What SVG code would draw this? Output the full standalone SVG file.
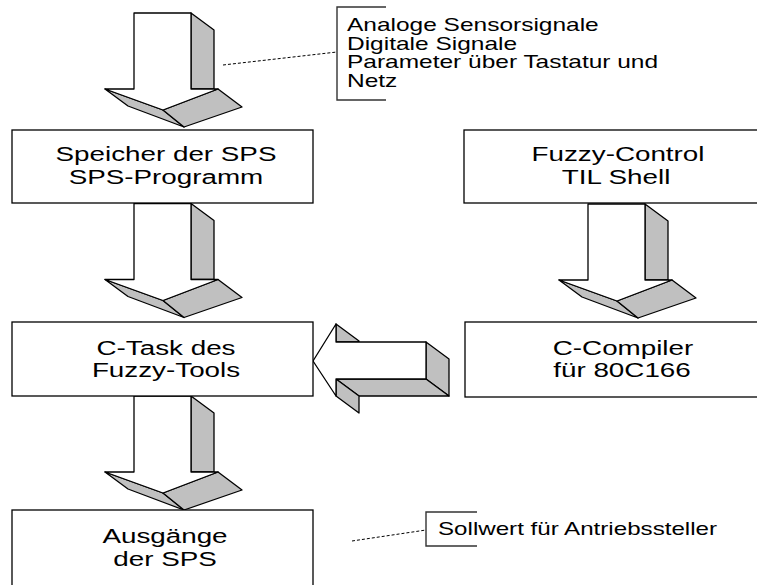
<svg xmlns="http://www.w3.org/2000/svg" width="757" height="585" viewBox="0 0 757 585">
  <style>
    .box { fill: #ffffff; stroke: #000000; stroke-width: 1.3; }
    .face { fill: #ffffff; stroke: #000000; stroke-width: 1.3; stroke-linejoin: round; }
    .shade { fill: #c0c0c0; stroke: #000000; stroke-width: 1.3; stroke-linejoin: round; }
    .lbl { font-family: "Liberation Sans", Arial, sans-serif; font-size: 20px; fill: #000000; text-anchor: middle; }
    .note { font-family: "Liberation Sans", Arial, sans-serif; font-size: 17.5px; fill: #000000; }
    .bracket { fill: none; stroke: #333333; stroke-width: 1.4; }
    .lead { fill: none; stroke: #000000; stroke-width: 1; stroke-dasharray: 3 2; }
  </style>
  <defs>
    <!-- 3D block arrow pointing down, origin at the top-left of the shaft -->
    <g id="down-arrow">
      <polygon class="shade" points="57,0 80,17 80,76 57,76"/>
      <polygon class="shade" points="-29,76 29,97 50,114 -6,93"/>
      <polygon class="shade" points="29,97 84,76 108,94 50,114"/>
      <polygon class="face" points="0,0 57,0 57,76 84,76 29,97 -29,76 0,76"/>
    </g>
  </defs>

  <rect width="757" height="585" fill="#ffffff"/>

  <g id="connectors">
    <use href="#down-arrow" transform="translate(134 13)"/>
    <use href="#down-arrow" transform="translate(134 203.5)"/>
    <use href="#down-arrow" transform="translate(134 396)"/>
    <use href="#down-arrow" transform="translate(588 204)"/>
    <!-- block arrow pointing left, from compiler to C-task -->
    <g id="arrow-left">
      <polygon class="shade" points="336,324 359,341 359,342 336,342"/>
      <polygon class="shade" points="426,342 449,359 449,396 426,379"/>
      <polygon class="shade" points="336,379 426,379 449,396 359,396"/>
      <polygon class="shade" points="336,379 359,396 359,413 336,396"/>
      <polygon class="face" points="313,361 336,324 336,342 426,342 426,379 336,379 336,396"/>
    </g>
    <line class="lead" x1="223" y1="65" x2="337" y2="52"/>
    <line class="lead" x1="352" y1="541" x2="426" y2="530"/>
  </g>

  <g id="speicher">
    <rect class="box" x="12" y="130" width="301" height="73"/>
    <text class="lbl" transform="translate(166 161) scale(1.39 1)">Speicher der SPS</text>
    <text class="lbl" transform="translate(166 183.5) scale(1.39 1)">SPS-Programm</text>
  </g>

  <g id="c-task">
    <rect class="box" x="12" y="322" width="301" height="74"/>
    <text class="lbl" transform="translate(166 355) scale(1.39 1)">C-Task des</text>
    <text class="lbl" transform="translate(166 377) scale(1.39 1)">Fuzzy-Tools</text>
  </g>

  <g id="ausgaenge">
    <rect class="box" x="12" y="510" width="301" height="100"/>
    <text class="lbl" transform="translate(165 543) scale(1.39 1)">Ausgänge</text>
    <text class="lbl" transform="translate(165 566) scale(1.39 1)">der SPS</text>
  </g>

  <g id="fuzzy-control">
    <rect class="box" x="464" y="130" width="320" height="73"/>
    <text class="lbl" transform="translate(618 161) scale(1.39 1)">Fuzzy-Control</text>
    <text class="lbl" transform="translate(616 183.5) scale(1.39 1)">TIL Shell</text>
  </g>

  <g id="c-compiler">
    <rect class="box" x="465" y="322" width="320" height="75"/>
    <text class="lbl" transform="translate(623 355) scale(1.39 1)">C-Compiler</text>
    <text class="lbl" transform="translate(622 377) scale(1.39 1)">für 80C166</text>
  </g>

  <g id="note-inputs">
    <polyline class="bracket" points="386,7 337,7 337,100 386,100"/>
    <text class="note" transform="translate(347 30.5) scale(1.4 1)">Analoge Sensorsignale</text>
    <text class="note" transform="translate(347 49.5) scale(1.4 1)">Digitale Signale</text>
    <text class="note" transform="translate(347 68) scale(1.4 1)">Parameter über Tastatur und</text>
    <text class="note" transform="translate(347 87) scale(1.4 1)">Netz</text>
  </g>

  <g id="note-setpoint">
    <polyline class="bracket" points="477,512 426,512 426,546 477,546"/>
    <text class="note" transform="translate(438 535) scale(1.38 1)">Sollwert für Antriebssteller</text>
  </g>
</svg>
